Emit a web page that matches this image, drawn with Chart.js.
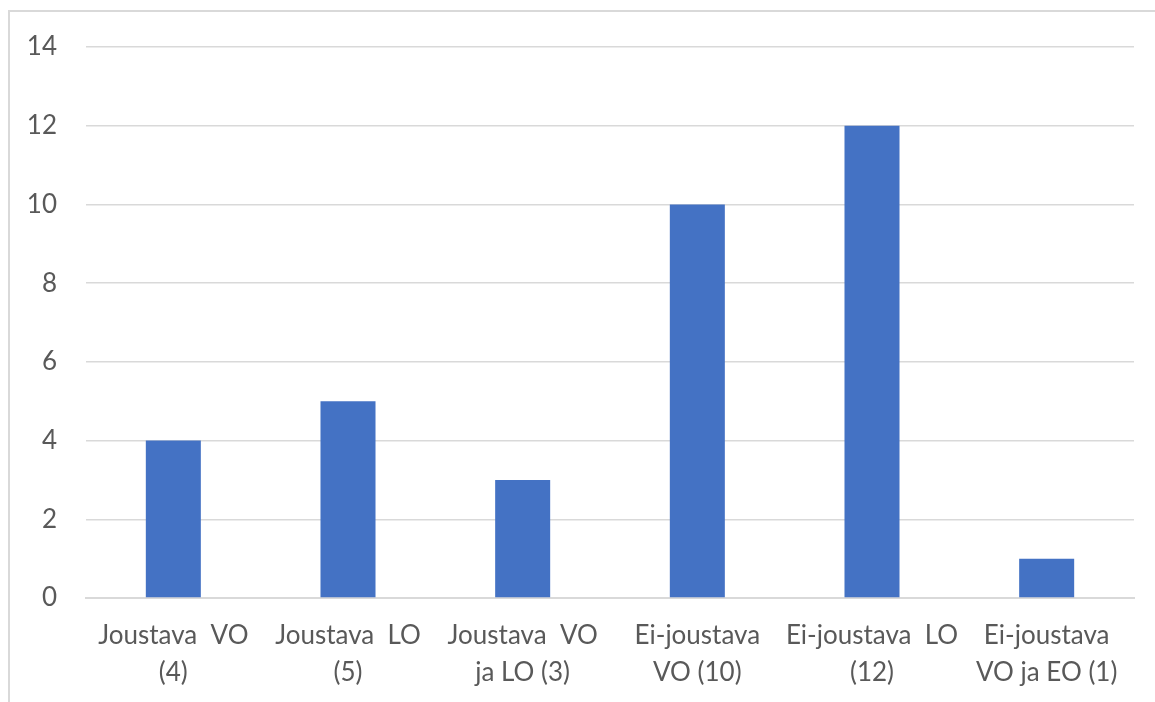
<!DOCTYPE html>
<html>
<head>
<meta charset="utf-8">
<script src="https://cdn.jsdelivr.net/npm/chart.js@4/dist/chart.umd.min.js"></script>
<style>
  html, body { margin: 0; padding: 0; background: #ffffff; }
  #wrap { position: relative; width: 1155px; height: 702px; }
</style>
</head>
<body>
<div id="wrap"><canvas id="chart" width="1155" height="702"></canvas></div>
<script>
// Category names: first line, and the text preceding the count on the second line
const labelFirst  = ["Joustava  VO", "Joustava  LO", "Joustava  VO", "Ei-joustava", "Ei-joustava  LO", "Ei-joustava"];
const labelSecond = ["", "", "ja LO", "VO", "", "VO ja EO"];
// Number of cases per category
const counts = [4, 5, 3, 10, 12, 1];
// Value axis
const yMin = 0;
const yMax = 14;
const yStep = 2;

const categories = labelFirst.map((first, i) => [
  first,
  (labelSecond[i] ? labelSecond[i] + " " : "") + "(" + counts[i] + ")"
]);

const TEXT = "#595959";
const GRID = "#d9d9d9";
const FONT = "Lato, 'Open Sans', 'Liberation Sans', sans-serif";

// Light frame around the chart
const framePlugin = {
  id: "frame",
  beforeDraw(chart) {
    const ctx = chart.ctx;
    ctx.save();
    ctx.strokeStyle = GRID;
    ctx.lineWidth = 2;
    ctx.beginPath();
    ctx.moveTo(9, chart.height);
    ctx.lineTo(9, 11);
    ctx.lineTo(chart.width, 11);
    ctx.stroke();
    ctx.restore();
  }
};

new Chart(document.getElementById("chart"), {
  type: "bar",
  data: {
    labels: categories,
    datasets: [{
      data: counts,
      backgroundColor: "#4472c4",
      borderWidth: 0,
      barPercentage: 0.63,
      categoryPercentage: 0.5
    }]
  },
  options: {
    responsive: false,
    animation: false,
    layout: { padding: { top: 47, right: 21, left: 0, bottom: 0 } },
    plugins: {
      legend: { display: false },
      tooltip: { enabled: false }
    },
    scales: {
      x: {
        grid: { display: false, drawTicks: false },
        border: { display: true, color: GRID, width: 2 },
        ticks: {
          color: TEXT,
          font: { family: FONT, size: 26, lineHeight: 1.42 },
          padding: 19,
          maxRotation: 0,
          autoSkip: false
        },
        afterFit(scale) { scale.height = 104; }
      },
      y: {
        min: yMin,
        max: yMax,
        grid: { color: GRID, lineWidth: 1.5, drawTicks: false },
        border: { display: false },
        ticks: {
          stepSize: yStep,
          color: TEXT,
          font: { family: FONT, size: 26 },
          padding: 29
        },
        afterFit(scale) { scale.width = 86; }
      }
    }
  },
  plugins: [framePlugin]
});
</script>
</body>
</html>
